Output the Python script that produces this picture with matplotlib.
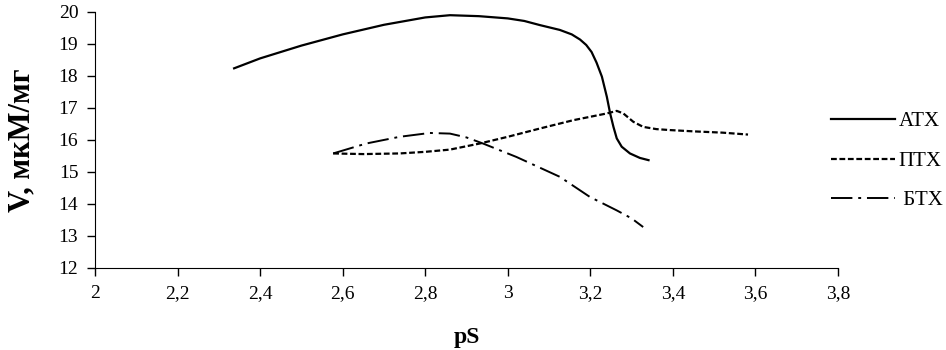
import numpy as np
import matplotlib
matplotlib.use("Agg")
import matplotlib.pyplot as plt

plt.rcParams['font.family'] = ['Liberation Serif', 'DejaVu Serif']

# АТХ
atx_x = [2.337, 2.40, 2.50, 2.60, 2.70, 2.80, 2.86, 2.93, 3.00, 3.04, 3.078, 3.126, 3.155,
         3.175, 3.19, 3.203, 3.215, 3.228, 3.24, 3.248, 3.256, 3.264, 3.276, 3.296, 3.32, 3.341]
atx_y = [18.24, 18.55, 18.95, 19.3, 19.6, 19.83, 19.9, 19.87, 19.8, 19.72, 19.59, 19.44, 19.3,
         19.14, 18.97, 18.75, 18.42, 17.98, 17.35, 16.83, 16.41, 16.05, 15.79, 15.58, 15.44, 15.37]

# ПТХ
ptx_x = [2.577, 2.65, 2.738, 2.80, 2.86, 2.932, 3.00, 3.078, 3.159, 3.24, 3.264,
         3.28, 3.304, 3.328, 3.36, 3.393, 3.45, 3.52, 3.582]
ptx_y = [15.58, 15.56, 15.58, 15.63, 15.7, 15.89, 16.1, 16.36, 16.62, 16.83, 16.91,
         16.83, 16.57, 16.41, 16.34, 16.31, 16.27, 16.23, 16.17]

# БТХ
btx_x = [2.577, 2.657, 2.738, 2.811, 2.86, 2.90, 2.94, 3.021, 3.126, 3.199, 3.264, 3.30, 3.328]
btx_y = [15.58, 15.89, 16.1, 16.22, 16.2, 16.08, 15.89, 15.47, 14.85, 14.22, 13.8, 13.55, 13.28]

x_ticks = [2.0, 2.2, 2.4, 2.6, 2.8, 3.0, 3.2, 3.4, 3.6, 3.8]
x_labels = ['2', '2,2', '2,4', '2,6', '2,8', '3', '3,2', '3,4', '3,6', '3,8']
y_ticks = [12, 13, 14, 15, 16, 17, 18, 19, 20]

fig = plt.figure(figsize=(9.46, 3.5), dpi=100)
ax = fig.add_axes([95 / 946, 1 - 268 / 350, (838 - 95) / 946, (268 - 12) / 350])

l1, = ax.plot(atx_x, atx_y, color='black', lw=1.6, ls='-')
l2, = ax.plot(ptx_x, ptx_y, color='black', lw=1.6, ls=(0, (2.6, 1.2)))
l3, = ax.plot(btx_x, btx_y, color='black', lw=1.4, ls=(0, (11, 3, 1.5, 3)))

ax.set_xlim(2, 3.8)
ax.set_ylim(12, 20)
ax.set_xticks(x_ticks)
ax.set_xticklabels(x_labels)
ax.set_yticks(y_ticks)
ax.spines['top'].set_visible(False)
ax.spines['right'].set_visible(False)
ax.tick_params(direction='out', length=6, width=1, labelsize=14, pad=6)
ax.set_xlabel('pS', fontsize=17, fontweight='bold', labelpad=18)
ax.set_ylabel('V, мкМ/мг', fontsize=22, fontweight='bold', labelpad=16)

fig.legend([l1, l2, l3], ['АТХ', 'ПТХ', ' БТХ'], loc='center left',
           bbox_to_anchor=(812 / 946, 1 - 161 / 350), frameon=False,
           fontsize=15, handlelength=3.1, handletextpad=0.15, labelspacing=0.95)

fig.savefig('out.png', dpi=100)
